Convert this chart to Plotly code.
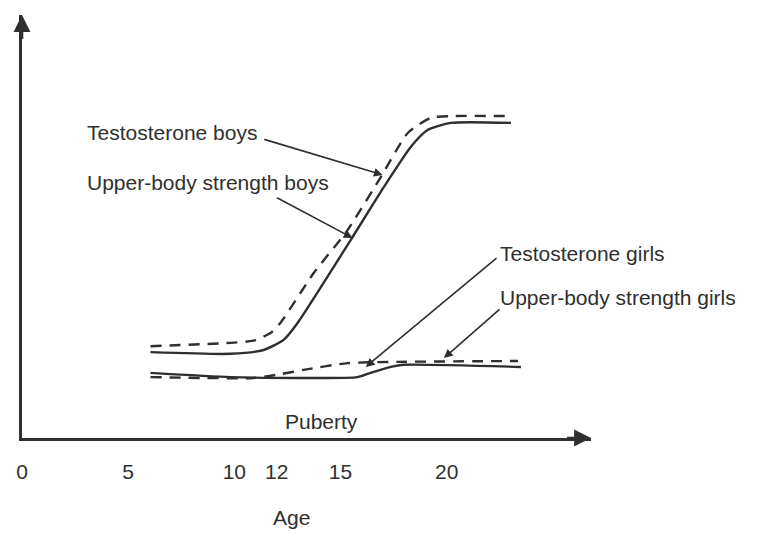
import plotly.graph_objects as go

# ---- data (arbitrary level units 0-100) ----
tick_ages = [0, 5, 10, 12, 15, 20]
tick_labels = ["0", "5", "10", "12", "15", "20"]

boys_test_age = [6.05, 9.82, 10.9, 11.7, 12.17, 13.74, 15.34, 16.9, 18.17, 19.25, 20.2, 23.03]
boys_test_lvl = [21.7, 22.5, 23.0, 24.8, 27.2, 39.0, 49.2, 61.7, 72.1, 75.7, 76.1, 76.1]

boys_str_age = [6.05, 9.82, 11.38, 12.32, 12.98, 15.48, 17.04, 18.31, 19.1, 20.2, 23.03]
boys_str_lvl = [20.3, 19.9, 20.8, 23.2, 27.2, 46.8, 59.3, 68.8, 72.8, 74.5, 74.5]

girls_test_age = [6.05, 10.9, 12.17, 13.26, 15.34, 17.7, 23.36]
girls_test_lvl = [14.4, 14.2, 15.1, 16.1, 17.7, 18.0, 18.2]

girls_str_age = [6.05, 9.82, 12.98, 15.81, 16.42, 17.37, 17.98, 23.5]
girls_str_lvl = [15.4, 14.4, 14.2, 14.4, 15.4, 16.8, 17.3, 16.8]

INK = "#2f2f2f"
FONT = "Liberation Sans, Arial, sans-serif"
FS = 21

fig = go.Figure()

def add_line(x, y, dash):
    fig.add_trace(go.Scatter(
        x=x, y=y, mode="lines",
        line=dict(color=INK, width=2.4, dash=dash, shape="spline", smoothing=0.6),
        showlegend=False, hoverinfo="skip", cliponaxis=False))

add_line(boys_test_age, boys_test_lvl, "11px,8px")
add_line(boys_str_age, boys_str_lvl, "solid")
add_line(girls_test_age, girls_test_lvl, "11px,8px")
add_line(girls_str_age, girls_str_lvl, "solid")

# ---- labels ----
def label(text, x, y, xanchor="left"):
    fig.add_annotation(x=x, y=y, xref="x", yref="y", text=text, showarrow=False,
                       xanchor=xanchor, yanchor="middle",
                       font=dict(family=FONT, size=FS, color=INK))

label("Testosterone boys", 2.98, 72.3)
label("Upper-body strength boys", 2.98, 60.5)
label("Testosterone girls", 22.42, 43.7)
label("Upper-body strength girls", 22.42, 33.1)
label("Puberty", 14.12, 3.9, xanchor="center")

fig.add_annotation(x=12.7, y=-0.189, xref="x", yref="paper", text="Age", showarrow=False,
                   xanchor="center", yanchor="middle",
                   font=dict(family=FONT, size=FS, color=INK))

# ---- pointer arrows ----
def pointer(x0, y0, x1, y1):
    fig.add_annotation(x=x1, y=y1, ax=x0, ay=y0, xref="x", yref="y", axref="x", ayref="y",
                       text="", showarrow=True, arrowhead=2, arrowsize=1.1,
                       arrowwidth=1.6, arrowcolor=INK, standoff=0, startstandoff=0)

pointer(11.34, 70.7, 16.99, 62.2)
pointer(11.94, 57.0, 15.57, 47.3)
pointer(22.42, 42.8, 16.19, 16.8)
pointer(22.56, 30.7, 19.87, 18.9)

# ---- axis arrowheads ----
X_MAX = 26.8
Y_MAX = 100
fig.add_annotation(x=X_MAX, y=0, ax=X_MAX - 1.2, ay=0, xref="x", yref="y", axref="x", ayref="y",
                   text="", showarrow=True, arrowhead=2, arrowsize=1.3, arrowwidth=2.6,
                   arrowcolor=INK, standoff=0)
fig.add_annotation(x=0, y=Y_MAX, ax=0, ay=Y_MAX - 6, xref="x", yref="y", axref="x", ayref="y",
                   text="", showarrow=True, arrowhead=2, arrowsize=1.3, arrowwidth=2.6,
                   arrowcolor=INK, standoff=0)

fig.update_layout(
    width=771, height=526,
    margin=dict(l=14, r=188, t=7, b=96),
    paper_bgcolor="white", plot_bgcolor="white",
    showlegend=False,
    xaxis=dict(range=[0, X_MAX], tickvals=tick_ages, ticktext=tick_labels,
               showgrid=False, zeroline=False, showline=True, linecolor=INK, linewidth=2.6,
               ticks="", ticklabelstandoff=13,
               tickfont=dict(family=FONT, size=FS, color=INK), fixedrange=True),
    yaxis=dict(range=[0, Y_MAX], showticklabels=False, showgrid=False, zeroline=False,
               showline=True, linecolor=INK, linewidth=2.6, ticks="", fixedrange=True),
)

fig.write_html("out.html")
